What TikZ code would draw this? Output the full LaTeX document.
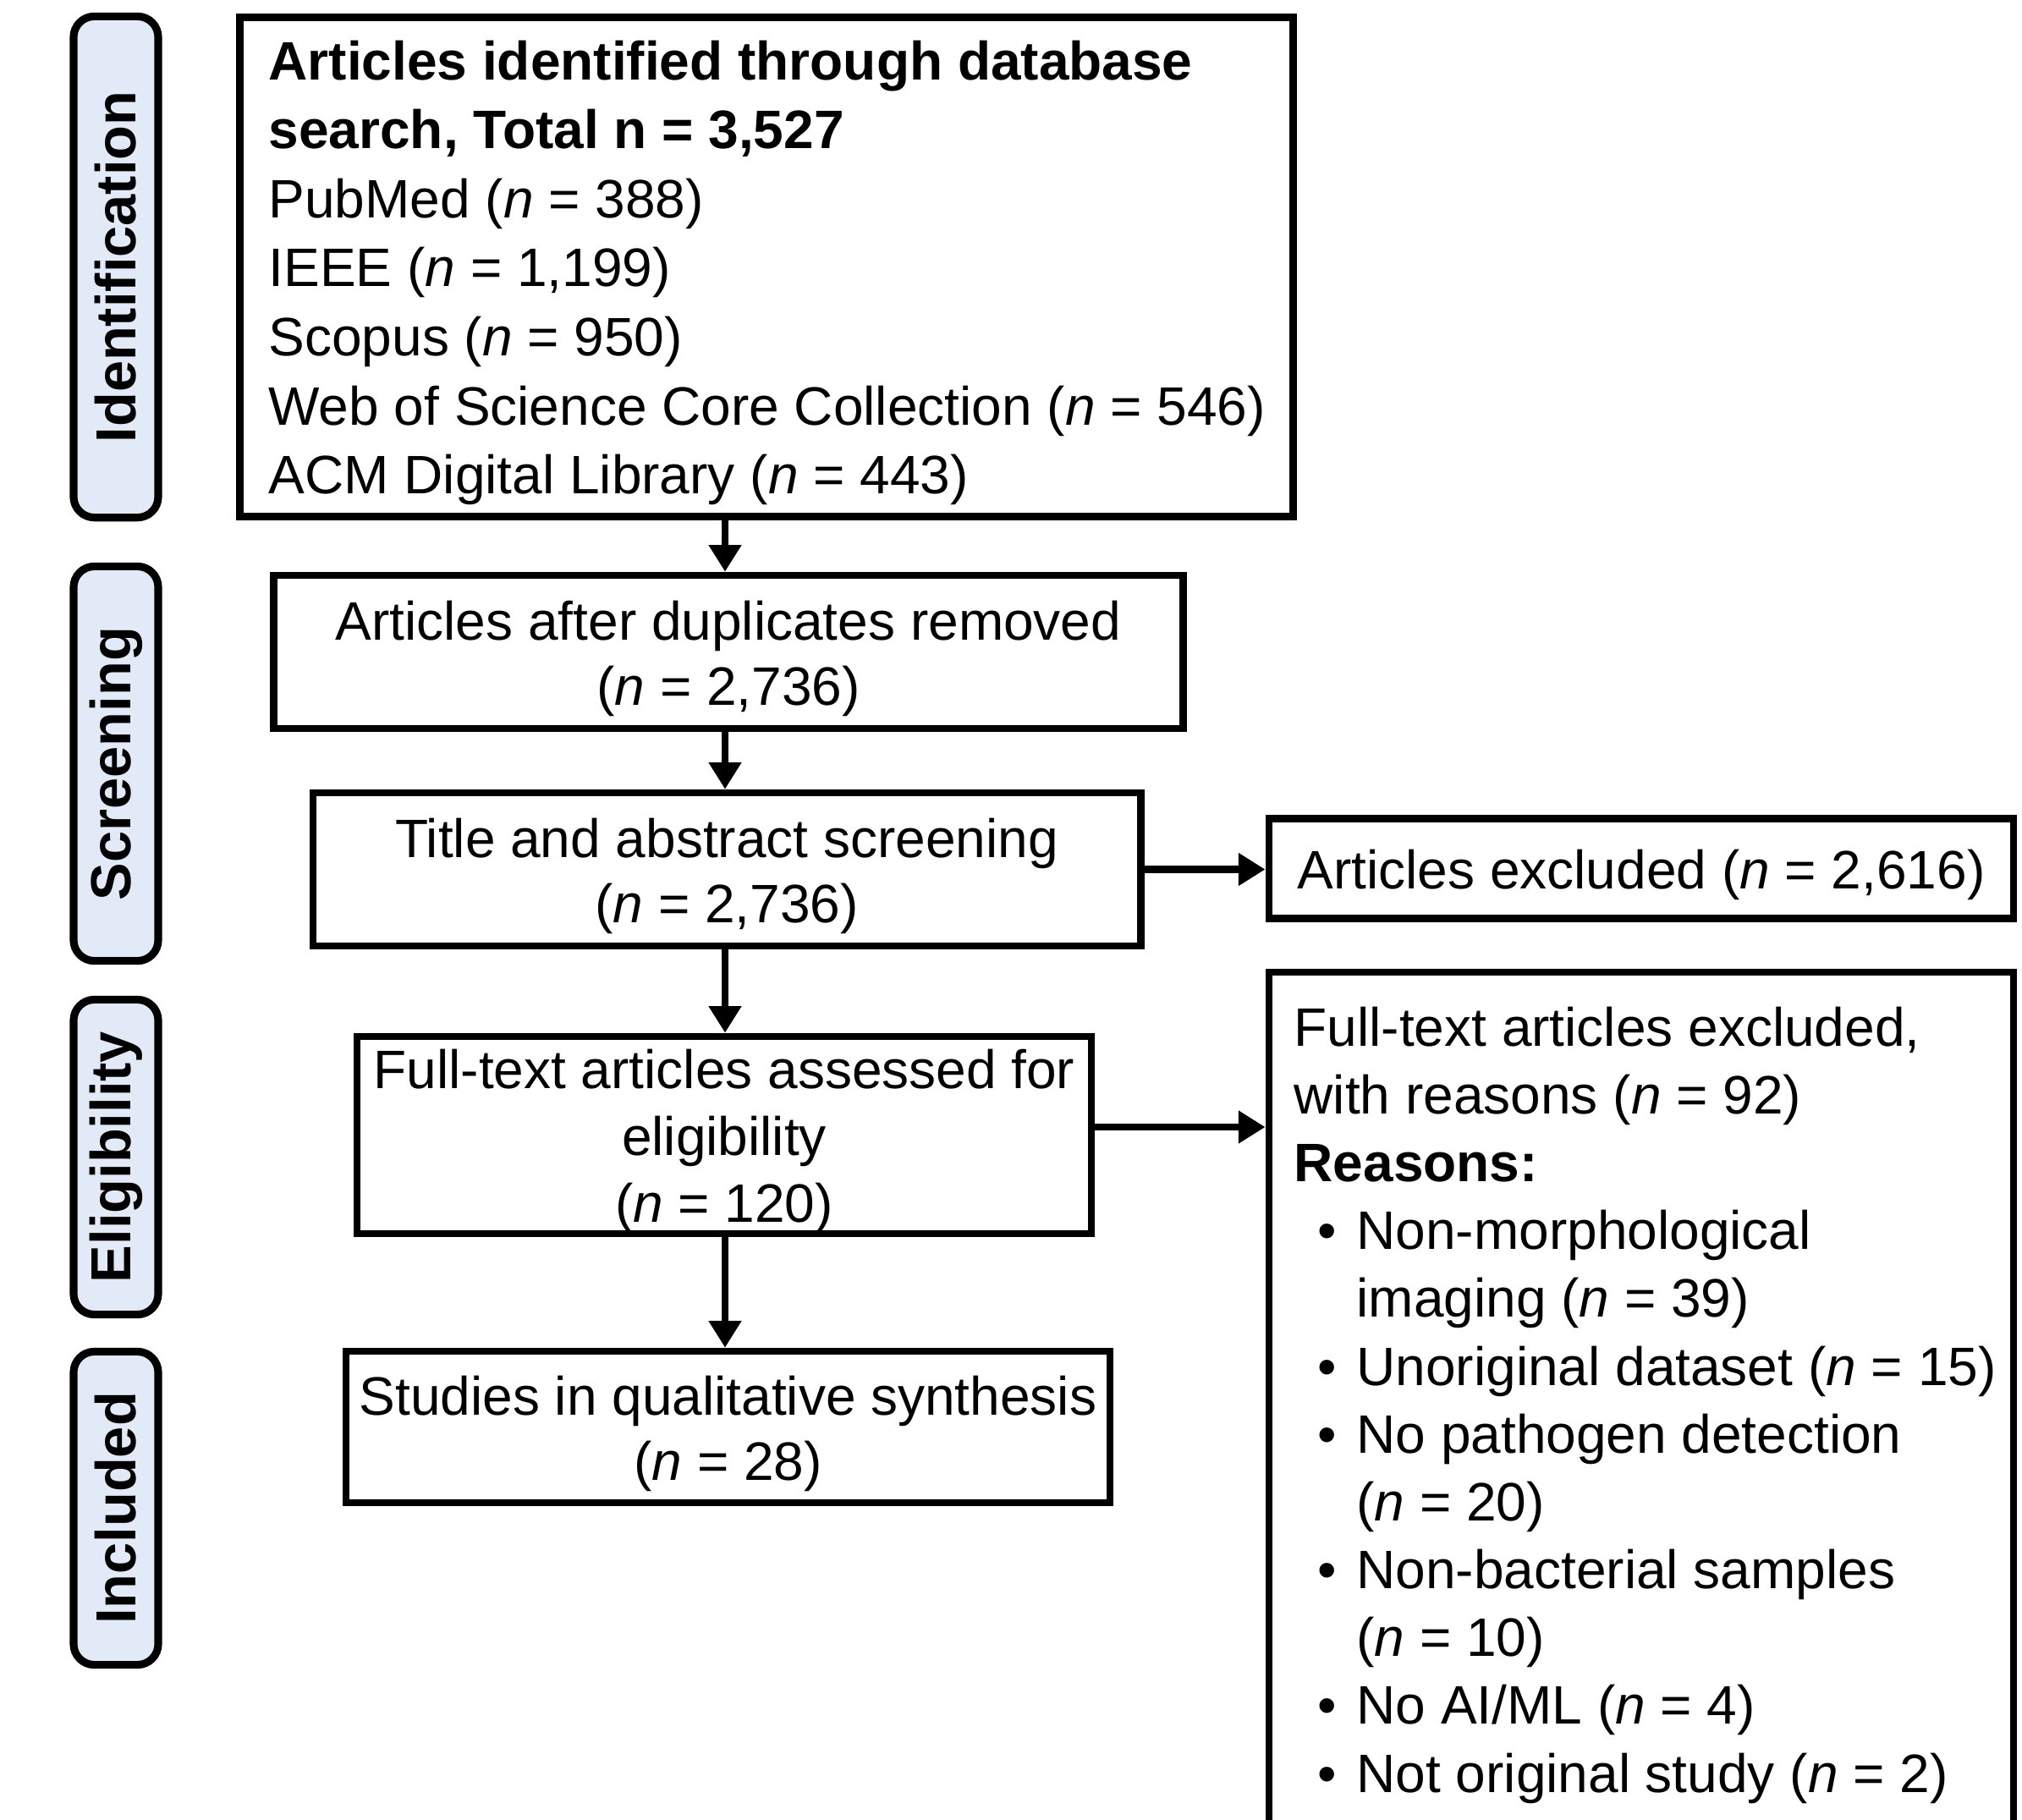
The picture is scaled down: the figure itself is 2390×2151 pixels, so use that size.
\documentclass[tikz,border=0pt]{standalone}
\usepackage{fontspec}
\setmainfont{Liberation Sans}
\usetikzlibrary{arrows.meta}
\definecolor{phaseblue}{RGB}{226,234,248}
\begin{document}
\begin{tikzpicture}[x=0.01cm,y=-0.01cm,
  box/.style={draw=black, line width=2.4pt, fill=white, inner sep=0pt},
  btxt/.style={inner sep=0pt, align=center, font=\fontsize{18.2}{22}\selectfont},
  ltxt/.style={inner sep=0pt, align=left, anchor=north west},
  phase/.style={draw=black, line width=2.6pt, fill=phaseblue, rounded corners=7pt,
    inner sep=0pt, rotate=90, minimum height=1.0cm, font=\bfseries\fontsize{19}{22}\selectfont},
  arr/.style={line width=2.3pt, -{Triangle[width=10.5pt,length=9pt]}},
]
\useasboundingbox (0,0) rectangle (2390,2151);
\clip (0,0) rectangle (2390,2151);

% phase labels
\node[phase, minimum width=5.92cm] (pid) at (137,315.5) {Identification};
\node[phase, minimum width=4.66cm] (pscr) at (137,902.5) {Screening};
\node[phase, minimum width=3.72cm] (pel) at (137,1367.5) {Eligibility};
\node[phase, minimum width=3.70cm] (pinc) at (137,1782.5) {Included};

% main boxes
\node[box, minimum width=12.44cm, minimum height=5.9cm] (b1) at (906,315.5) {};
\node[ltxt, font=\fontsize{18.2}{23.2}\selectfont] (b1t) at (317,47)
  {\textbf{Articles identified through database}\\
   \textbf{search, Total n = 3,527}\\
   PubMed (\textit{n} = 388)\\
   IEEE (\textit{n} = 1,199)\\
   Scopus (\textit{n} = 950)\\
   Web of Science Core Collection (\textit{n} = 546)\\
   ACM Digital Library (\textit{n} = 443)};

\node[box, minimum width=10.74cm, minimum height=1.81cm] (b2) at (861,770.5) {};
\node[btxt] (b2t) at ([yshift=-2.2pt]b2.center)
  {Articles after duplicates removed\\(\textit{n} = 2,736)};

\node[box, minimum width=9.78cm, minimum height=1.81cm] (b3) at (859,1027.5) {};
\node[btxt] (b3t) at ([yshift=-2.2pt]b3.center)
  {Title and abstract screening\\(\textit{n} = 2,736)};

\node[box, minimum width=8.68cm, minimum height=2.33cm] (b4) at (856,1341.5) {};
\node[btxt, font=\fontsize{18.2}{22.5}\selectfont] (b4t) at ([yshift=-2.2pt]b4.center)
  {Full-text articles assessed for\\eligibility\\(\textit{n} = 120)};

\node[box, minimum width=9.02cm, minimum height=1.79cm] (b5) at (860.5,1686.5) {};
\node[btxt] (b5t) at ([yshift=-2.2pt]b5.center)
  {Studies in qualitative synthesis\\(\textit{n} = 28)};

\node[box, minimum width=8.8cm, minimum height=1.18cm] (e1) at (1940,1026.5) {};
\node[btxt] (e1t) at ([yshift=-2.2pt]e1.center) {Articles excluded (\textit{n} = 2,616)};

\node[box, minimum width=8.8cm, minimum height=10.6cm, anchor=north] (e2) at (1940,1145) {};
\node[ltxt, font=\fontsize{18.2}{22.8}\selectfont] (e2t) at (1529,1189)
  {Full-text articles excluded,\\
   with reasons (\textit{n} = 92)\\
   \textbf{Reasons:}\\
   \makebox[21pt][l]{\hspace{8pt}•}Non-morphological\\
   \hspace*{21pt}imaging (\textit{n} = 39)\\
   \makebox[21pt][l]{\hspace{8pt}•}Unoriginal dataset (\textit{n} = 15)\\
   \makebox[21pt][l]{\hspace{8pt}•}No pathogen detection\\
   \hspace*{21pt}(\textit{n} = 20)\\
   \makebox[21pt][l]{\hspace{8pt}•}Non-bacterial samples\\
   \hspace*{21pt}(\textit{n} = 10)\\
   \makebox[21pt][l]{\hspace{8pt}•}No AI/ML (\textit{n} = 4)\\
   \makebox[21pt][l]{\hspace{8pt}•}Not original study (\textit{n} = 2)};

% connectors
\coordinate (ax) at (857,0);
\draw[arr] (b1.south -| ax) -- (b2.north -| ax);
\draw[arr] (b2.south -| ax) -- (b3.north -| ax);
\draw[arr] (b3.south -| ax) -- (b4.north -| ax);
\draw[arr] (b4.south -| ax) -- (b5.north -| ax);
\draw[arr] (b3.east) -- (b3.east -| e1.west);
\draw[arr] ([yshift=2.7pt]b4.east) -- ([yshift=2.7pt]b4.east -| e2.west);
\end{tikzpicture}
\end{document}
